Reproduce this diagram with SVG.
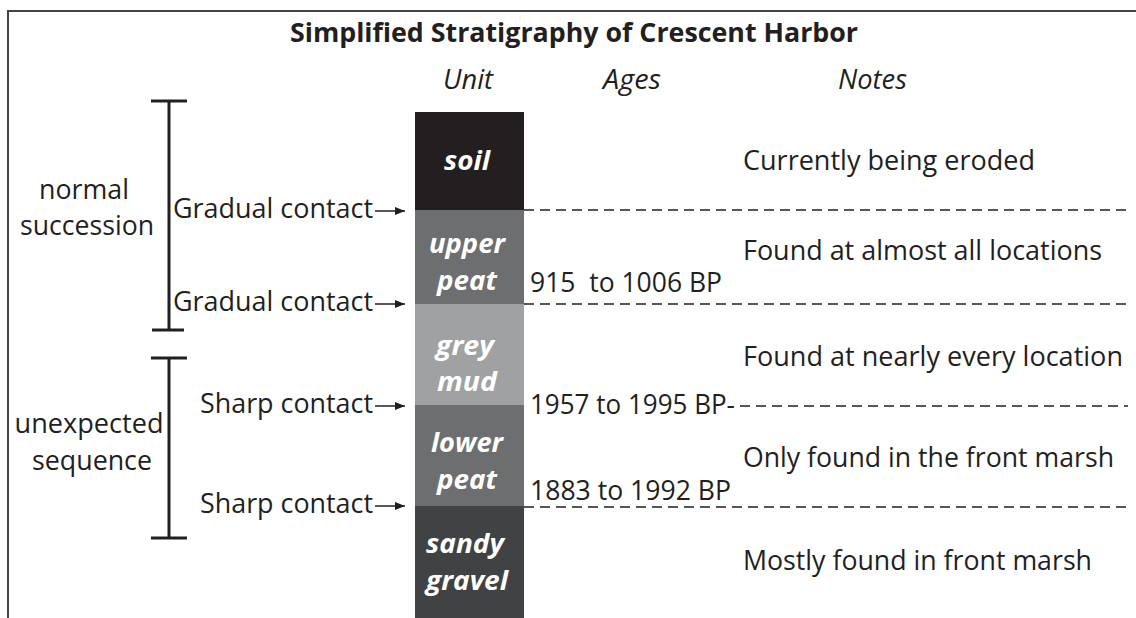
<svg xmlns="http://www.w3.org/2000/svg" width="1136" height="618" viewBox="0 0 1136 618">
<defs>
<style>
text{font-family:"Open Sans","Liberation Sans",sans-serif;fill:#231f20}
.t{font-size:27px;font-weight:bold}
.h{font-size:27px;font-style:italic}
.l{font-size:28px}
.u{font-size:27px;font-weight:bold;font-style:italic;fill:#fff;text-anchor:middle}
.d{stroke:#231f20;stroke-width:1.3;stroke-dasharray:10,6;fill:none}
.b{stroke:#231f20;stroke-width:3;fill:none}
.a{stroke:#231f20;stroke-width:1.5;fill:none}
</style>
<marker id="ah" viewBox="0 0 10 10" refX="10" refY="5" markerWidth="10" markerHeight="10" markerUnits="userSpaceOnUse" orient="auto"><path d="M0,1 L10,5 L0,9 Z" fill="#231f20"/></marker>
</defs>
<rect x="0" y="0" width="1136" height="618" fill="#fff"/>
<path d="M8,618 V11 H1136" stroke="#444" stroke-width="2" fill="none"/>
<text class="t" x="574" y="42" text-anchor="middle" textLength="568" lengthAdjust="spacingAndGlyphs">Simplified Stratigraphy of Crescent Harbor</text>
<text class="h" x="443" y="89" textLength="50" lengthAdjust="spacingAndGlyphs">Unit</text>
<text class="h" x="603" y="89" textLength="58" lengthAdjust="spacingAndGlyphs">Ages</text>
<text class="h" x="838" y="89" textLength="69" lengthAdjust="spacingAndGlyphs">Notes</text>
<g id="column">
<g id="soil"><rect x="415" y="112" width="109" height="98" fill="#231f20"/><text class="u" x="467" y="170" textLength="46" lengthAdjust="spacingAndGlyphs">soil</text></g>
<g id="upper-peat"><rect x="415" y="210" width="109" height="94" fill="#6d6e70"/><text class="u" x="467" y="253" textLength="76" lengthAdjust="spacingAndGlyphs">upper</text><text class="u" x="467" y="290" textLength="60" lengthAdjust="spacingAndGlyphs">peat</text></g>
<g id="grey-mud"><rect x="415" y="304" width="109" height="101" fill="#a0a1a3"/><text class="u" x="465" y="355" textLength="58" lengthAdjust="spacingAndGlyphs">grey</text><text class="u" x="467" y="391" textLength="60" lengthAdjust="spacingAndGlyphs">mud</text></g>
<g id="lower-peat"><rect x="415" y="405" width="109" height="101" fill="#6d6e70"/><text class="u" x="467" y="452" textLength="72" lengthAdjust="spacingAndGlyphs">lower</text><text class="u" x="467" y="489" textLength="60" lengthAdjust="spacingAndGlyphs">peat</text></g>
<g id="sandy-gravel"><rect x="415" y="506" width="109" height="112" fill="#414244"/><text class="u" x="465" y="553" textLength="78" lengthAdjust="spacingAndGlyphs">sandy</text><text class="u" x="467" y="590" textLength="82" lengthAdjust="spacingAndGlyphs">gravel</text></g>
</g>
<g id="brackets">
<g id="normal"><path class="b" d="M169,101 V330 M151,101 H187 M152,330 H184"/><text class="l" x="84" y="199" text-anchor="middle" textLength="90" lengthAdjust="spacingAndGlyphs">normal</text><text class="l" x="87" y="235" text-anchor="middle" textLength="134" lengthAdjust="spacingAndGlyphs">succession</text></g>
<g id="unexpected"><path class="b" d="M169,358 V538 M151,358 H187 M151,538 H187"/><text class="l" x="89" y="433" text-anchor="middle" textLength="149" lengthAdjust="spacingAndGlyphs">unexpected</text><text class="l" x="92" y="470" text-anchor="middle" textLength="120" lengthAdjust="spacingAndGlyphs">sequence</text></g>
</g>
<g id="contact-labels">
<text class="l" x="173" y="218" textLength="200" lengthAdjust="spacingAndGlyphs">Gradual contact</text>
<text class="l" x="173" y="311" textLength="200" lengthAdjust="spacingAndGlyphs">Gradual contact</text>
<text class="l" x="200" y="413" textLength="173" lengthAdjust="spacingAndGlyphs">Sharp contact</text>
<text class="l" x="200" y="513" textLength="173" lengthAdjust="spacingAndGlyphs">Sharp contact</text>
</g>
<g id="connectors">
<line class="a" x1="375" y1="211" x2="405" y2="211" marker-end="url(#ah)"/>
<line class="a" x1="375" y1="304" x2="405" y2="304" marker-end="url(#ah)"/>
<line class="a" x1="375" y1="406" x2="405" y2="406" marker-end="url(#ah)"/>
<line class="a" x1="375" y1="506" x2="405" y2="506" marker-end="url(#ah)"/>
<line class="d" x1="524" y1="210" x2="1128" y2="210"/>
<line class="d" x1="524" y1="304" x2="1128" y2="304"/>
<line class="d" x1="740" y1="406" x2="1128" y2="406"/>
<line class="d" x1="524" y1="507" x2="1128" y2="507"/>
</g>
<g id="ages">
<text class="l" x="530" y="292" textLength="192" lengthAdjust="spacingAndGlyphs" xml:space="preserve">915  to 1006 BP</text>
<text class="l" x="530" y="414" textLength="205" lengthAdjust="spacingAndGlyphs">1957 to 1995 BP-</text>
<text class="l" x="530" y="500" textLength="201" lengthAdjust="spacingAndGlyphs">1883 to 1992 BP</text>
</g>
<g id="notes">
<text class="l" x="743" y="170" textLength="292" lengthAdjust="spacingAndGlyphs">Currently being eroded</text>
<text class="l" x="743" y="260" textLength="359" lengthAdjust="spacingAndGlyphs">Found at almost all locations</text>
<text class="l" x="743" y="366" textLength="380" lengthAdjust="spacingAndGlyphs">Found at nearly every location</text>
<text class="l" x="743" y="467" textLength="371" lengthAdjust="spacingAndGlyphs">Only found in the front marsh</text>
<text class="l" x="743" y="570" textLength="349" lengthAdjust="spacingAndGlyphs">Mostly found in front marsh</text>
</g>
</svg>
